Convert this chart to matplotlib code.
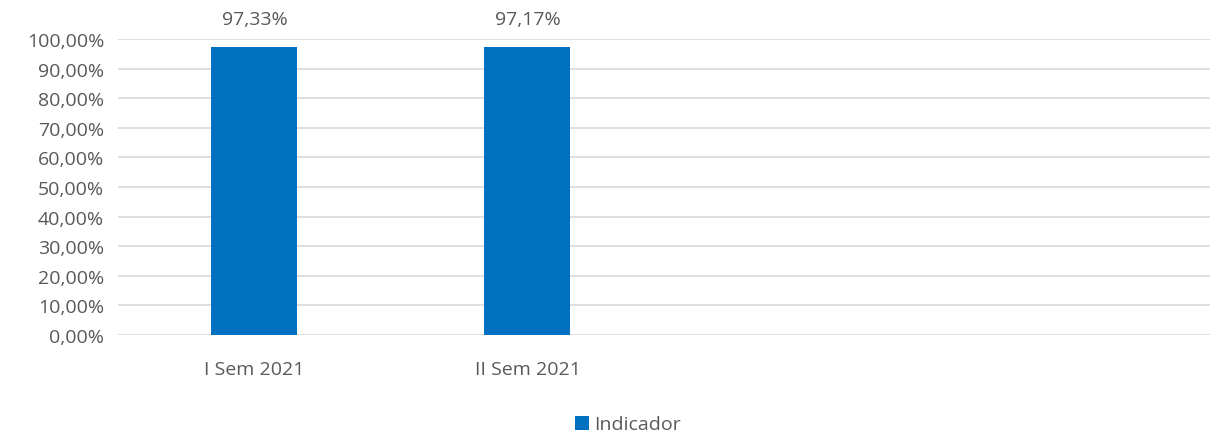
import numpy as np
import matplotlib.pyplot as plt
from matplotlib.ticker import FuncFormatter

# Chart data
categories = ['I Sem 2021', 'II Sem 2021', '', '']
values = [97.33, 97.17, np.nan, np.nan]
series_name = 'Indicador'

plt.rcParams['font.family'] = ['Open Sans', 'DejaVu Sans']
text_color = '#595959'
bar_color = '#0070C0'

fig = plt.figure(figsize=(12.1, 4.35), dpi=100)
ax = fig.add_axes([0.0975, 0.2276, 0.9025, 0.6804])

x = np.arange(len(categories))
bars = ax.bar(x, values, width=0.315, color=bar_color, label=series_name, zorder=3)

for xi, v in zip(x, values):
    if not np.isnan(v):
        ax.text(xi, v + 6.5, f'{v:.2f}%'.replace('.', ','), ha='center', va='bottom',
                fontsize=14, color=text_color)

ax.set_xlim(-0.5, len(categories) - 0.5)
ax.set_ylim(0, 100)
ax.set_yticks(np.arange(0, 101, 10))
ax.yaxis.set_major_formatter(FuncFormatter(lambda v, p: f'{v:.2f}%'.replace('.', ',')))
ax.set_xticks(x)
ax.set_xticklabels(categories)
ax.tick_params(axis='both', length=0, labelsize=14, labelcolor=text_color)
ax.tick_params(axis='x', pad=18)
ax.tick_params(axis='y', pad=10)

ax.grid(axis='y', color='#D9D9D9', linewidth=1.2, zorder=0)
for s in ax.spines.values():
    s.set_visible(False)

fig.legend(handles=[bars], labels=[series_name], loc='center', bbox_to_anchor=(0.519, 0.022),
           frameon=False, fontsize=14, labelcolor=text_color, handlelength=0.75,
           handleheight=0.75, handletextpad=0.25)

fig.savefig('out.png', dpi=100)
